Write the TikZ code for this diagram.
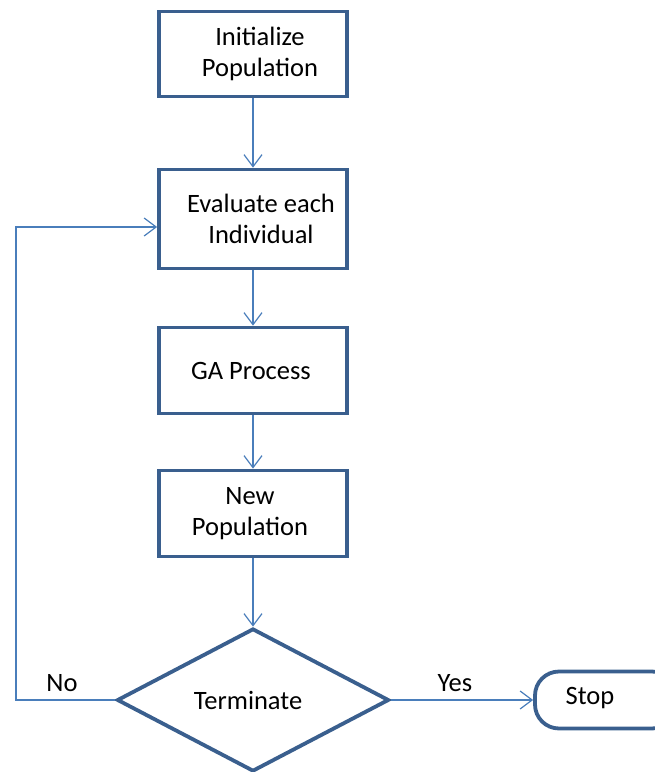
\documentclass[tikz,border=0pt]{standalone}
\usepackage{fontspec}
\setmainfont{Carlito}
\usetikzlibrary{arrows.meta,shapes.geometric}
\definecolor{boxblue}{HTML}{3A5F8E}
\definecolor{lineblue}{HTML}{4A7EBB}
\begin{document}
\begin{tikzpicture}[x=1pt,y=-1pt,
  every node/.style={font=\fontsize{26.5}{31}\selectfont},
  stepbox/.style={draw=boxblue,line width=3.8pt,minimum width=188pt,inner sep=0pt,fill=white},
  flow/.style={draw=lineblue,line width=1.2pt,-{Straight Barb[length=12pt,width=18pt]}},
  txt/.style={align=center,text=black}
]
\useasboundingbox (0,0) rectangle (655,772);

% process steps
\node[stepbox,minimum height=85pt,label={[txt,xshift=7pt]center:Initialize\\Population}] (init) at (253,54) {};
\node[stepbox,minimum height=99pt,label={[txt,xshift=8pt]center:Evaluate each\\Individual}] (eval) at (253,219) {};
\node[stepbox,minimum height=86pt,label={[txt,xshift=-2pt]center:GA Process}] (ga) at (253,370.5) {};
\node[stepbox,minimum height=86pt,label={[txt,xshift=-3pt]center:New\\Population}] (newpop) at (253,513.5) {};

% decision
\node[draw=boxblue,line width=3.8pt,shape=diamond,inner sep=0pt,
      minimum width=272pt,minimum height=143pt,fill=white,
      label={[txt,xshift=-5pt]center:Terminate}] (term) at (253,700) {};

% terminal
\node[draw=boxblue,line width=3.8pt,rounded corners=24pt,inner sep=0pt,
      minimum width=141pt,minimum height=57pt,fill=white,
      label={[txt,xshift=-15.5pt,yshift=2pt]center:Stop}] (stop) at (605.5,700) {};

% connectors
\draw[flow] (init) -- (eval);
\draw[flow] (eval) -- (ga);
\draw[flow] (ga) -- (newpop);
\draw[flow] (newpop) -- (term);
\draw[flow] (term.east) -- (stop.west);

\coordinate (loopcorner) at (16,700);
\coordinate (loopin) at ([yshift=-8pt]eval.west);
\draw[flow] (term.west) -- (loopcorner) |- (loopin);

% branch labels
\node[txt] (nolab) at (62,683) {No};
\node[txt] (yeslab) at (455,683) {Yes};
\end{tikzpicture}
\end{document}
